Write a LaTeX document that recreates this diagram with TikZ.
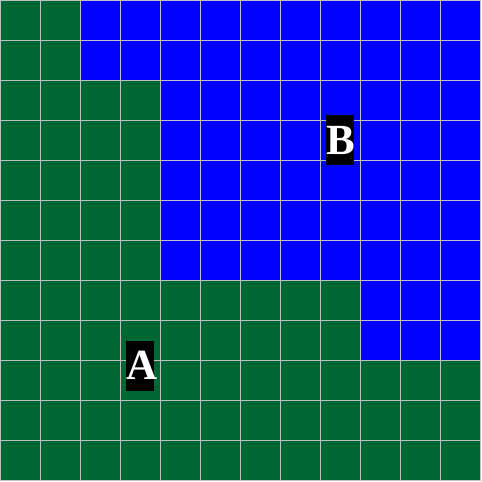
\documentclass[tikz,border=0pt]{standalone}
\usepackage{fontspec}
\setmainfont{Liberation Serif}
\definecolor{gfield}{RGB}{0,102,51}
\definecolor{bfield}{RGB}{0,0,255}
\definecolor{gline}{RGB}{192,192,192}
\tikzset{
  lbl/.style={fill=black, text=white, inner sep=0pt, minimum width=28pt, minimum height=50pt,
    text width=28pt, align=center, font=\fontsize{43}{43}\selectfont\bfseries}
}
\begin{document}
\begin{tikzpicture}[x=1pt,y=-1pt]
\useasboundingbox (0,0) rectangle (482,482);
\fill[gfield] (0,0) rectangle (481,481);
\fill[bfield] (80,0) -- (480,0) -- (480,360) -- (360,360) -- (360,280) -- (160,280) -- (160,80) -- (80,80) -- cycle;
\foreach \i in {0,...,12} {
  \draw[gline, line width=1pt] (\i*40+0.5,0) -- (\i*40+0.5,481);
  \draw[gline, line width=1pt] (0,\i*40+0.5) -- (481,\i*40+0.5);
}
\node[lbl] (B) at (340,140) {B};
\node[lbl] (A) at (140,365.5) {A};
\end{tikzpicture}
\end{document}
